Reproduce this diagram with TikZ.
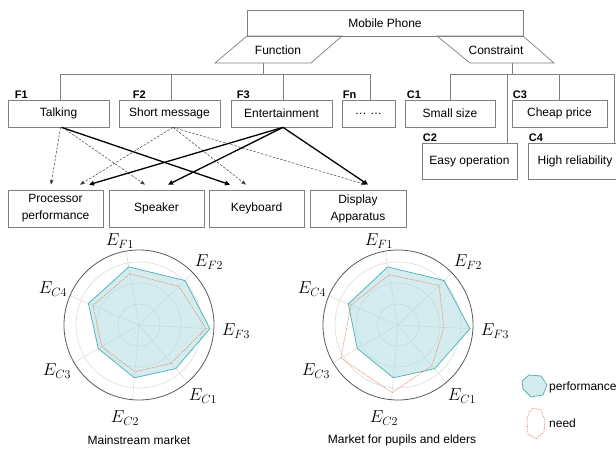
\documentclass[tikz,border=0pt]{standalone}
\usepackage{fontspec}
\setmainfont{Liberation Sans}
\usetikzlibrary{arrows.meta}

\definecolor{boxgray}{HTML}{808080}
\definecolor{ringgray}{HTML}{DCDCDC}
\definecolor{rimgray}{HTML}{5A5A5A}
\definecolor{perfline}{HTML}{56B5B8}
\definecolor{perffill}{HTML}{B0DCE1}
\definecolor{needline}{HTML}{E59A78}

\tikzset{
  box/.style={draw=boxgray, line width=0.7pt, minimum height=27, inner sep=1pt, align=center},
  tag/.style={font=\bfseries\fontsize{11}{12}\selectfont, anchor=base west, inner sep=0pt},
  tree/.style={draw=boxgray, line width=0.7pt},
  weak/.style={draw=black!75, line width=0.5pt, dash pattern=on 2.5pt off 1.5pt, -{Triangle[length=4.5pt,width=3.5pt]}},
  strong/.style={draw=black, line width=1.3pt, -{Triangle[length=5pt,width=4.5pt]}},
  ring/.style={draw=ringgray, line width=0.6pt},
  rim/.style={draw=rimgray, line width=0.8pt},
  perf/.style={draw=perfline, fill=perffill, fill opacity=0.55, line width=0.8pt},
  need/.style={draw=needline, line width=0.7pt, dash pattern=on 1.5pt off 1pt},
  axis/.style={font=\fontsize{18}{20}\selectfont, inner sep=0pt}
}

% rings, spokes and E labels of one radar chart, #1 = prefix for names
\newcommand{\radarbase}[1]{%
  \foreach \r in {21,42,63} \draw[ring] (0,0) circle (\r);
  \foreach \a in {100,44,-3,-50,-95,-150,157} \draw[ring] (0,0) -- (\a:75);
  \foreach \lx/\ly/\lab [count=\i] in {-19/84/F1, 70/63/F2, 97/-6/F3, 64/-71/C1, -14/-93/C2, -82/-46/C3, -86/36/C4}
    \node[axis] (#1\i) at (\lx,\ly) {$E_{\lab}$};
}

\begin{document}
\begin{tikzpicture}[x=1pt, y=-1pt, font=\fontsize{12}{17}\selectfont]
  \useasboundingbox (0,0) rectangle (616,450);

  % product and its two branches
  \node[box, minimum width=276, minimum height=26] (phone) at (385,23) {Mobile Phone};
  \draw[tree] (247,36) -- (342,36) -- (311,63) -- (215,63) -- cycle;
  \node (func) at (278,50) {Function};
  \draw[tree] (437,36) -- (523,36) -- (554,63) -- (470,63) -- cycle;
  \node (cons) at (496,50) {Constraint};
  \coordinate (fstem) at (263,63);
  \coordinate (cstem) at (512,63);

  % functions
  \node[box, minimum width=101] (talk)  at (58.5,113.5)  {Talking};
  \node[box, minimum width=101] (short) at (169.5,113.5) {Short message};
  \node[box, minimum width=101] (ent)   at (281.5,113.5) {Entertainment};
  \node[box, minimum width=53]  (fn)    at (368.5,113.5) {\dots\ \dots};
  \node[tag] (tf1) at ([xshift=7,yshift=1.5]talk.north west)  {F1};
  \node[tag] (tf2) at ([xshift=14,yshift=1.5]short.north west) {F2};
  \node[tag] (tf3) at ([xshift=6,yshift=1.5]ent.north west)   {F3};
  \node[tag] (tfn) at ([xshift=1,yshift=1.5]fn.north west)    {Fn};

  % constraints
  \node[box, minimum width=90] (small) at (450,113.5)   {Small size};
  \node[box, minimum width=95] (cheap) at (559.5,113.5) {Cheap price};
  \node[box, minimum width=95, minimum height=36] (easy) at (469.5,161) {Easy operation};
  \node[box, minimum width=94, minimum height=36] (high) at (575,161)   {High reliability};
  \node[tag] (tc1) at ([xshift=2,yshift=1.5]small.north west) {C1};
  \node[tag] (tc3) at ([xshift=1,yshift=1.5]cheap.north west) {C3};
  \node[tag] (tc2) at ([xshift=1,yshift=1.5]easy.north west)  {C2};
  \node[tag] (tc4) at ([xshift=1,yshift=1.5]high.north west)  {C4};

  % tree lines
  \draw[tree] (fstem) -- ++(0,11) coordinate (fbus);
  \foreach \n in {talk,short,ent,fn}
    \draw[tree] (fbus) -| ([xshift=2]\n.north);
  \draw[tree] (cstem) -- ++(0,11) coordinate (cbus);
  \draw[tree] (cbus) -| (small.north);
  \draw[tree] (cbus) -| (cheap.north);
  \draw[tree] (cbus) -| ([xshift=-10]easy.north east);
  \draw[tree] (cbus) -| ([xshift=-8]high.north east);

  % components
  \node[box, minimum width=95, minimum height=37] (proc) at (55.5,208.5)  {Processor\\performance};
  \node[box, minimum width=95, minimum height=37] (spk)  at (156.5,208.5) {Speaker};
  \node[box, minimum width=95, minimum height=37] (keyb) at (256.5,208.5) {Keyboard};
  \node[box, minimum width=96, minimum height=37] (disp) at (358,208.5)   {Display\\Apparatus};

  % which function uses which component
  \draw[weak]   ([xshift=2]talk.south)    -- ([xshift=-4.5,yshift=5]proc.north);
  \draw[weak]   ([xshift=4]talk.south)    -- ([xshift=-11.5,yshift=5]spk.north);
  \draw[strong] ([xshift=3]talk.south)    -- ([xshift=-26.5,yshift=5]keyb.north);
  \draw[weak]   ([xshift=3.5]short.south) -- ([xshift=24.5,yshift=5]proc.north);
  \draw[weak]   ([xshift=3.5]short.south) -- ([xshift=-10.5,yshift=5]keyb.north);
  \draw[weak]   ([xshift=3.5]short.south) -- ([xshift=8,yshift=5]disp.north);
  \draw[strong] ([xshift=1.5]ent.south)   -- ([xshift=33.5,yshift=5]proc.north);
  \draw[strong] ([xshift=1.5]ent.south)   -- ([xshift=11.5,yshift=5]spk.north);
  \draw[strong] ([xshift=1.5]ent.south)   -- ([xshift=10,yshift=5]disp.north);

  % mainstream market
  \begin{scope}[shift={(139,325)}, y=1pt]
    \radarbase{ma}
    \draw[perf] (100:59) -- (44:64) -- (-3:71) -- (-50:57) -- (-95:53) -- (-150:47) -- (157:55) -- cycle;
    \draw[need] (100:52) -- (44:55.5) -- (-3:67) -- (-50:50) -- (-95:47) -- (-150:43) -- (157:50) -- cycle;
    \draw[rim] (0,0) circle (75);
  \end{scope}
  \node (mainmkt) at (139,440) {Mainstream market};

  % pupils and elders
  \begin{scope}[shift={(398,325)}, y=1pt]
    \radarbase{pe}
    \draw[perf] (100:59) -- (44:64) -- (-3:72) -- (-50:57) -- (-95:53) -- (-150:47) -- (157:54) -- cycle;
    \draw[need] (100:51) -- (44:57) -- (-3:46) -- (-50:53) -- (-95:68) -- (-150:66) -- (157:51) -- cycle;
    \draw[rim] (0,0) circle (75);
  \end{scope}
  \node (pupmkt) at (402,440) {Market for pupils and elders};

  % legend
  \draw[perf] (529,375) -- (541,376) -- (547,385) -- (543,395) -- (531,397) -- (523,389) -- (522,381) -- cycle;
  \node[anchor=west, inner sep=1pt] (lgperf) at (548,387) {performance};
  \draw[need] (533,408) -- (541,410) -- (545,420) -- (544,432) -- (536,439) -- (528,434) -- (527,420) -- (529,412) -- cycle;
  \node[anchor=west, inner sep=1pt] (lgneed) at (548,423) {need};
\end{tikzpicture}
\end{document}
